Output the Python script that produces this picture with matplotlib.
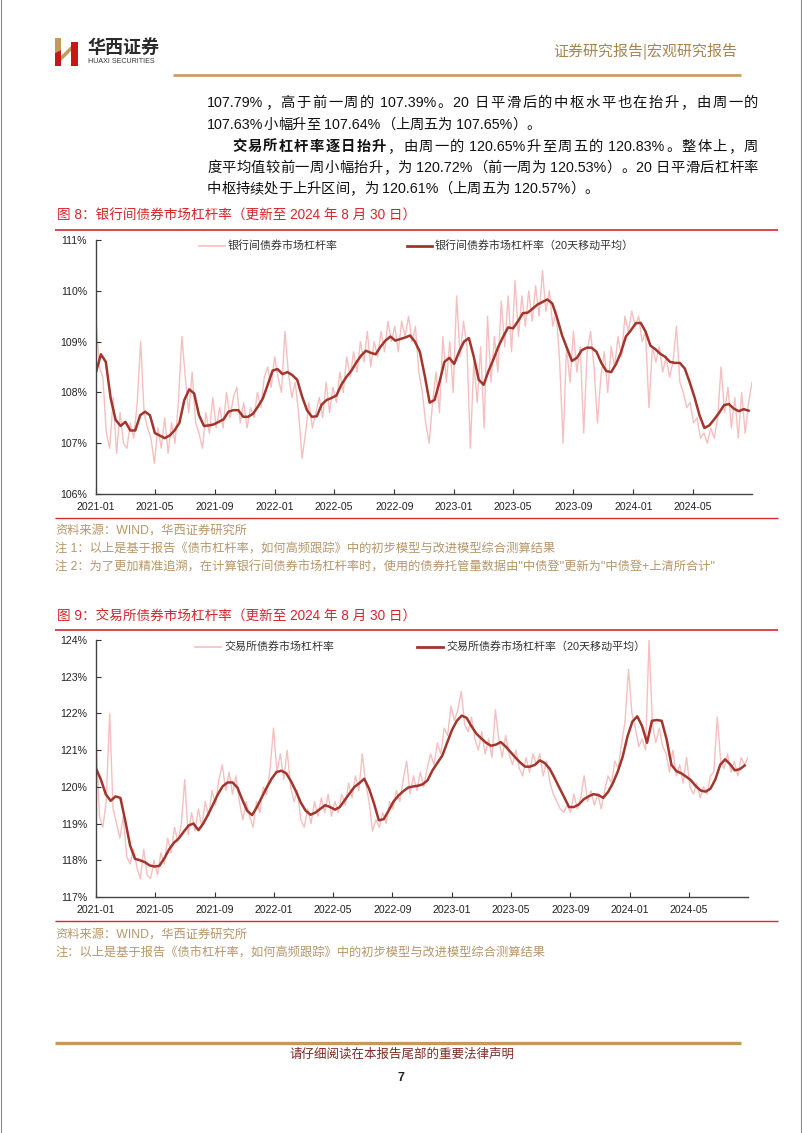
import matplotlib
matplotlib.use('Agg')
import matplotlib.pyplot as plt
from matplotlib.lines import Line2D
from matplotlib.patches import Polygon
from matplotlib.ticker import FuncFormatter
import pandas as pd

# ---------------- data ----------------
tick_labels = ['2021-01', '2021-05', '2021-09', '2022-01', '2022-05', '2022-09',
               '2023-01', '2023-05', '2023-09', '2024-01', '2024-05']

# weekly raw series (from 2021-01-01, every 7 days)
ib_raw = [109.4, 108.5, 108.3, 107.2, 106.9, 107.9, 106.8, 107.6, 107.0, 106.9,
          107.4, 107.1, 107.8, 109.0, 107.6, 107.3, 107.1, 106.6, 107.3, 106.9,
          107.5, 106.8, 107.4, 107.0, 107.8, 109.1, 108.3, 107.6, 108.4, 107.4,
          107.2, 106.9, 107.6, 107.2, 107.9, 107.3, 107.7, 107.3, 108.0, 107.5,
          107.9, 108.1, 107.4, 107.8, 107.3, 107.7, 107.5, 108.0, 107.7, 108.3,
          108.5, 108.1, 108.7, 108.3, 108.0, 109.2, 108.4, 107.9, 108.2, 107.6,
          106.7, 107.2, 107.8, 107.3, 107.6, 107.9, 107.5, 108.2, 107.6, 108.1,
          107.8, 108.4, 108.0, 108.7, 108.3, 108.8, 108.4, 109.0, 108.6, 109.2,
          108.5, 109.0, 108.7, 109.2, 108.8, 109.4, 109.0, 109.3, 108.8, 109.4,
          109.1, 109.5, 109.0, 109.3, 108.4, 108.0, 107.4, 107.0, 107.8, 108.4,
          107.6, 109.1, 108.2, 109.0, 108.0, 109.9, 108.7, 109.4, 108.9, 106.9,
          108.6, 107.8, 108.9, 107.3, 109.5, 108.2, 109.1, 108.4, 109.8, 108.9,
          109.9, 108.8, 110.2, 109.1, 109.9, 109.3, 110.0, 109.4, 110.1, 109.5,
          110.4, 109.6, 110.0, 109.3, 109.6, 108.6, 107.0, 108.9, 108.2, 109.2,
          108.4, 108.9, 107.2, 108.8, 109.2, 108.5, 107.4, 108.3, 108.8, 108.0,
          108.9, 108.5, 109.1, 108.7, 109.5, 109.2, 109.6, 109.3, 109.5, 109.0,
          109.2, 107.7, 108.9, 108.6, 108.9, 108.4, 108.7, 108.3, 108.6, 109.3,
          108.2, 108.0, 107.7, 107.8, 107.4, 107.5, 107.1, 107.2, 107.0, 107.3,
          107.1, 107.5, 108.5, 107.6, 108.1, 107.3, 107.9, 107.1, 108.0, 107.2,
          107.8, 108.2]

# 20-day moving average (from 2021-01-01, every 10 days)
ib_ma = [108.40, 108.75, 108.60, 107.88, 107.46, 107.34, 107.42, 107.25, 107.25, 107.55,
         107.62, 107.55, 107.20, 107.15, 107.10, 107.15, 107.25, 107.40, 107.85, 108.06,
         107.98, 107.55, 107.34, 107.35, 107.37, 107.42, 107.47, 107.62, 107.65, 107.65,
         107.52, 107.52, 107.58, 107.72, 107.88, 108.15, 108.43, 108.46, 108.36, 108.40,
         108.34, 108.25, 107.92, 107.65, 107.52, 107.53, 107.76, 107.85, 107.89, 107.94,
         108.15, 108.30, 108.42, 108.58, 108.72, 108.82, 108.78, 108.75, 108.90, 109.02,
         109.10, 109.02, 109.05, 109.08, 109.12, 109.00, 108.80, 108.33, 107.80, 107.85,
         108.20, 108.60, 108.68, 108.56, 108.80, 109.00, 109.07, 108.70, 108.25, 108.15,
         108.42, 108.65, 108.90, 109.10, 109.28, 109.26, 109.40, 109.56, 109.57, 109.65,
         109.73, 109.78, 109.83, 109.75, 109.46, 109.12, 108.87, 108.62, 108.68, 108.83,
         108.88, 108.88, 108.80, 108.58, 108.42, 108.40, 108.56, 108.79, 109.10, 109.22,
         109.36, 109.37, 109.20, 108.92, 108.85, 108.76, 108.70, 108.60, 108.58, 108.58,
         108.47, 108.20, 107.90, 107.55, 107.30, 107.35, 107.47, 107.60, 107.75, 107.77,
         107.68, 107.63, 107.67, 107.64]

ex_raw = [121.4, 119.2, 118.9, 119.6, 122.0, 119.4, 119.0, 118.6, 119.2, 118.1,
          117.9, 118.3, 117.8, 117.5, 118.3, 117.6, 117.5, 118.0, 117.6, 118.2,
          117.9, 118.6, 118.2, 118.9, 118.5, 119.0, 120.2, 118.7, 119.3, 118.8,
          119.4, 118.9, 119.6, 119.2, 119.9, 119.5, 120.2, 120.6, 119.9, 120.4,
          119.8, 120.3, 119.6, 119.1, 119.6, 119.2, 118.9, 119.6, 119.3, 120.0,
          119.8, 120.5, 121.6, 120.4, 120.9, 120.2, 121.0, 120.0, 119.6, 119.9,
          119.1, 118.9, 119.4, 119.0, 119.6, 119.2, 119.7, 119.3, 119.8, 119.2,
          119.6, 119.3, 119.8, 119.5, 120.1, 119.7, 120.3, 119.9, 120.9, 120.1,
          119.6, 118.8, 119.1, 118.9, 119.3, 119.0, 119.6, 119.4, 119.9, 119.6,
          120.2, 120.7, 119.8, 120.3, 119.9, 120.4, 120.0, 120.5, 120.9, 120.6,
          121.2, 120.9, 121.6, 121.4, 122.2, 121.8, 122.1, 122.6, 121.7, 121.5,
          121.9, 121.3, 121.0, 121.5, 120.9, 121.3, 120.8, 122.1, 121.3, 120.8,
          121.4, 120.9, 120.6, 121.0, 120.5, 120.3, 120.8, 120.4, 120.9, 120.6,
          120.9, 120.3, 120.7, 120.1, 119.8, 119.6, 119.4, 119.3, 119.5, 119.3,
          119.8, 119.4, 119.7, 120.3, 119.6, 119.9, 119.5, 119.8, 119.4, 119.9,
          120.3, 120.1, 120.7, 120.5, 121.2, 121.8, 123.2, 122.0, 121.6, 121.1,
          121.3, 121.0, 124.0, 121.7, 121.2, 121.6, 121.1, 120.9, 120.4, 121.0,
          120.3, 120.6, 120.1, 120.8, 120.0, 119.8, 120.1, 119.7, 120.0, 119.8,
          120.3, 120.4, 121.9, 120.7, 120.5, 120.9, 120.4, 120.7, 120.3, 120.8,
          120.6, 120.8]

ex_ma = [120.50, 120.20, 119.80, 119.62, 119.74, 119.70, 119.08, 118.40, 118.04, 118.00,
         117.95, 117.86, 117.83, 117.85, 118.05, 118.30, 118.48, 118.60, 118.78, 118.95,
         119.00, 118.82, 119.00, 119.25, 119.52, 119.80, 120.02, 120.12, 120.12, 119.98,
         119.65, 119.35, 119.23, 119.45, 119.72, 119.98, 120.22, 120.40, 120.44, 120.37,
         120.15, 119.88, 119.57, 119.35, 119.24, 119.30, 119.40, 119.50, 119.45, 119.38,
         119.45, 119.64, 119.82, 120.00, 120.10, 120.22, 119.95, 119.55, 119.09, 119.12,
         119.35, 119.60, 119.76, 119.88, 119.98, 120.01, 120.03, 120.07, 120.18, 120.45,
         120.65, 120.85, 121.20, 121.55, 121.80, 121.94, 121.88, 121.65, 121.45, 121.32,
         121.20, 121.12, 121.15, 121.22, 121.10, 120.95, 120.80, 120.66, 120.55, 120.55,
         120.60, 120.72, 120.65, 120.50, 120.25, 119.98, 119.72, 119.45, 119.45, 119.52,
         119.66, 119.74, 119.80, 119.78, 119.70, 119.86, 120.10, 120.42, 120.82, 121.38,
         121.78, 121.92, 121.65, 121.20, 121.80, 121.82, 121.80, 121.30, 120.60, 120.43,
         120.37, 120.28, 120.18, 120.02, 119.90, 119.87, 119.95, 120.20, 120.60, 120.75,
         120.62, 120.45, 120.48, 120.58]

raw_dates = pd.date_range('2021-01-01', periods=len(ib_raw), freq='7D')
ma_dates = pd.date_range('2021-01-01', periods=len(ib_ma), freq='10D')

# ---------------- figure ----------------
W, H = 802, 1133
fig = plt.figure(figsize=(W / 100, H / 100), dpi=100)
FAM = ['Liberation Sans', 'Noto Sans CJK SC']
CJK = ['Noto Sans CJK SC', 'Liberation Sans']
tr = fig.transFigure


def fx(x):
    return x / W


def fy(y):
    return 1 - y / H


def hline(x0, x1, y, color, lw):
    fig.add_artist(Line2D([fx(x0), fx(x1)], [fy(y), fy(y)], transform=tr,
                          color=color, lw=lw, solid_capstyle='butt'))


def txt(x, y, s, size, color='#1a1a1a', ha='left', va='center', weight='normal', family=FAM):
    return fig.text(fx(x), fy(y), s, fontsize=size, color=color, ha=ha, va=va,
                    fontweight=weight, family=family)


# page border
fig.add_artist(Line2D([fx(1), fx(1)], [0, 1], transform=tr, color='#8a8a8a', lw=0.8))
fig.add_artist(Line2D([fx(800.5), fx(800.5)], [0, 1], transform=tr, color='#8a8a8a', lw=0.8))

# ---------------- header ----------------
gold = '#c49a5c'
red_logo = '#c8161d'
fig.add_artist(Polygon([(fx(55), fy(38)), (fx(61), fy(38)), (fx(61), fy(50)), (fx(55), fy(53))],
                       closed=True, transform=tr, color=gold, lw=0))
fig.add_artist(Polygon([(fx(55), fy(53)), (fx(61), fy(50)), (fx(61), fy(66)), (fx(55), fy(66))],
                       closed=True, transform=tr, color=red_logo, lw=0))
fig.add_artist(Polygon([(fx(61), fy(56)), (fx(71), fy(46)), (fx(71), fy(51)), (fx(61), fy(61))],
                       closed=True, transform=tr, color=gold, lw=0))
fig.add_artist(Polygon([(fx(71), fy(42)), (fx(78), fy(42)), (fx(78), fy(66)), (fx(71), fy(66))],
                       closed=True, transform=tr, color=red_logo, lw=0))
txt(87, 47, '华西证券', 13, color='#2a2a2a', weight='bold', family=CJK)
txt(88, 61.5, 'HUAXI SECURITIES', 5.1, color='#333333')
txt(737, 52, '证券研究报告|宏观研究报告', 10.8, color='#a8844f', ha='right', family=CJK)
hline(173, 741, 75, '#c7a06a', 2.0)

# ---------------- body text (justified) ----------------
fig.canvas.draw()
renderer = fig.canvas.get_renderer()


def tokens_of(s):
    toks = []
    buf = ''
    for ch in s:
        if ord(ch) < 128:
            buf += ch
        else:
            if buf:
                toks.append(buf)
                buf = ''
            toks.append(ch)
    if buf:
        toks.append(buf)
    return toks


def justified(segments, x0, x1, y, size, justify=True):
    items = []
    for s, wgt in segments:
        for t in tokens_of(s):
            items.append((t, wgt))
    widths = []
    for t, wgt in items:
        tt = fig.text(0, 0, t, fontsize=size, family=FAM, fontweight=wgt)
        widths.append(tt.get_window_extent(renderer).width)
        tt.remove()
    total = sum(widths)
    gap = (x1 - x0 - total) / (len(items) - 1) if justify and len(items) > 1 else 0
    x = x0
    for (t, wgt), w in zip(items, widths):
        fig.text(fx(x), fy(y), t, fontsize=size, family=FAM, fontweight=wgt,
                 color='#111111', ha='left', va='center')
        x += w + gap


BS = 10.3
justified([('107.79%，高于前一周的 107.39%。20 日平滑后的中枢水平也在抬升，由周一的', 'normal')],
          207, 758, 103, BS)
justified([('107.63%小幅升至 107.64%（上周五为 107.65%）。', 'normal')], 207, 758, 125, BS, False)
justified([('交易所杠杆率逐日抬升', 'bold'),
           ('，由周一的 120.65%升至周五的 120.83%。整体上，周', 'normal')], 232, 758, 147, BS)
justified([('度平均值较前一周小幅抬升，为 120.72%（前一周为 120.53%）。20 日平滑后杠杆率', 'normal')],
          207, 758, 168, BS)
justified([('中枢持续处于上升区间，为 120.61%（上周五为 120.57%）。', 'normal')], 207, 758, 189, BS, False)

# ---------------- charts ----------------
RED = '#d7262c'
SRC = '#b8966a'
PINK = '#f6bfbf'
DARK = '#a2362c'
SRC_SIZE = 8.8


def make_chart(top, bottom, right, ylo, yhi, raw, ma, lab_raw, lab_ma, leg):
    ax = fig.add_axes([fx(96), fy(bottom), (right - 96) / W, (bottom - top) / H])
    ax.plot(raw_dates, raw, color=PINK, lw=1.0, zorder=1)
    ax.plot(ma_dates, ma, color=DARK, lw=1.8, zorder=2)
    ax.set_xlim(pd.Timestamp('2021-01-01'), pd.Timestamp('2024-08-30'))
    ax.set_ylim(ylo, yhi)
    ax.set_xticks([pd.Timestamp(t + '-01') for t in tick_labels])
    ax.set_xticklabels(tick_labels)
    ax.set_yticks(range(ylo, yhi + 1))
    ax.yaxis.set_major_formatter(FuncFormatter(lambda v, p: f'{v:.0f}%'))
    ax.tick_params(direction='in', length=3.5, width=0.8, color='#333333', labelsize=7.6,
                   labelcolor='#222222')
    ax.tick_params(axis='y', pad=6.5)
    ax.tick_params(axis='x', pad=6)
    for lab in ax.get_xticklabels() + ax.get_yticklabels():
        lab.set_family(FAM)
    for s in ('top', 'right'):
        ax.spines[s].set_visible(False)
    for s in ('left', 'bottom'):
        ax.spines[s].set_color('#444444')
        ax.spines[s].set_linewidth(1.0)
    ax.patch.set_alpha(0)
    # legend
    (lx1, lx2, tx1, lx3, lx4, tx2, ly) = leg
    fig.add_artist(Line2D([fx(lx1), fx(lx2)], [fy(ly), fy(ly)], transform=tr, color=PINK, lw=1.2))
    txt(tx1, ly, lab_raw, 7.9, color='#333333')
    fig.add_artist(Line2D([fx(lx3), fx(lx4)], [fy(ly), fy(ly)], transform=tr, color=DARK, lw=2.0))
    txt(tx2, ly, lab_ma, 7.9, color='#333333')
    return ax


# figure 8
txt(57, 216, '图 8：银行间债券市场杠杆率（更新至 2024 年 8 月 30 日）', 9.8, color=RED)
hline(55, 778, 230, RED, 1.2)
make_chart(240, 494, 752, 106, 111, ib_raw, ib_ma,
           '银行间债券市场杠杆率', '银行间债券市场杠杆率（20天移动平均）',
           (199, 225, 228, 407, 432, 435, 246))
hline(55, 778, 518, RED, 1.0)
txt(55, 531, '资料来源：WIND，华西证券研究所', SRC_SIZE, color=SRC)
txt(55, 549, '注 1：以上是基于报告《债市杠杆率，如何高频跟踪》中的初步模型与改进模型综合测算结果', SRC_SIZE, color=SRC)
txt(55, 567, '注 2：为了更加精准追溯，在计算银行间债券市场杠杆率时，使用的债券托管量数据由"中债登"更新为"中债登+上清所合计"',
    SRC_SIZE, color=SRC)

# figure 9
txt(57, 616, '图 9：交易所债券市场杠杆率（更新至 2024 年 8 月 30 日）', 9.8, color=RED)
hline(55, 778, 630, RED, 1.2)
make_chart(640, 897, 748, 117, 124, ex_raw, ex_ma,
           '交易所债券市场杠杆率', '交易所债券市场杠杆率（20天移动平均）',
           (195, 221, 224, 417, 443, 446, 647))
hline(55, 778, 921, RED, 1.0)
txt(55, 935, '资料来源：WIND，华西证券研究所', SRC_SIZE, color=SRC)
txt(55, 953, '注：以上是基于报告《债市杠杆率，如何高频跟踪》中的初步模型与改进模型综合测算结果', SRC_SIZE, color=SRC)

# ---------------- footer ----------------
hline(55, 741, 1043, '#c49a5c', 2.4)
txt(402, 1054, '请仔细阅读在本报告尾部的重要法律声明', 9, color='#7d2a22', ha='center', family=CJK)
txt(401, 1078, '7', 9, color='#222222', ha='center', weight='bold')

fig.savefig('out.png', dpi=100)
